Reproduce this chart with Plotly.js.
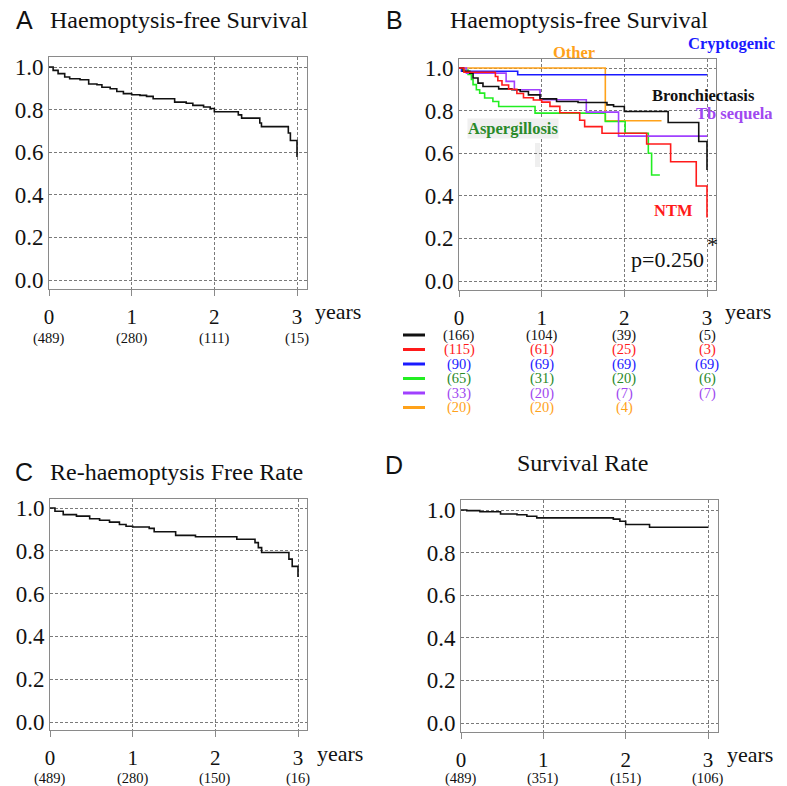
<!DOCTYPE html>
<html><head><meta charset="utf-8">
<script src="https://cdn.plot.ly/plotly-3.0.1.min.js"></script>
<style>html,body{margin:0;padding:0;background:#fff}#chart{width:787px;height:786px}</style>
</head><body><div id="chart"></div>
<script>
// ---------- data ----------
const years = [0, 1, 2, 3];
const tickY = [0, 0.2, 0.4, 0.6, 0.8, 1.0];
const tickYText = ['0.0', '0.2', '0.4', '0.6', '0.8', '1.0'];

// Panel A: haemoptysis-free survival (all patients)
const tA = [0, .05, .11, .19, .25, .375, .48, .58, .64, .74, .82, .9, 1.0, 1.1, 1.18, 1.26, 1.52, 1.66, 1.74, 1.87, 1.95, 2.0, 2.29, 2.33, 2.55, 2.57, 2.895, 2.92, 3.0];
const sA = [1, .984, .969, .953, .945, .94, .92, .917, .905, .898, .885, .875, .87, .867, .862, .851, .835, .83, .82, .812, .805, .79, .775, .76, .737, .72, .69, .655, .577];
const riskA = [489, 280, 111, 15];

// Panel B: by aetiology
const groups = ['Bronchiectasis', 'NTM', 'Cryptogenic', 'Aspergillosis', 'Tb sequela', 'Other'];
const tBronch = [0, .05, .13, .17, .23, .29, .48, .64, .74, .84, .98, 1.18, 1.44, 1.79, 1.87, 2.0, 2.53, 2.9, 3.0];
const sBronch = [1, .985, .976, .953, .929, .913, .902, .898, .89, .874, .855, .843, .838, .827, .819, .796, .744, .655, .521];
const tNTM = [0, .06, .44, .47, .52, .6, .7, .78, .9, 1.0, 1.1, 1.22, 1.46, 1.52, 1.73, 2.27, 2.56, 2.87, 3.0];
const sNTM = [1, .98, .96, .94, .92, .90, .88, .86, .85, .84, .82, .79, .755, .725, .694, .643, .56, .446, .298];
const tCrypto = [0, .03, .71, 3.0];
const sCrypto = [1, .985, .968, .968];
const tAsp = [0, .05, .11, .15, .17, .21, .25, .31, .41, .48, .92, 1.77, 2.01, 2.29, 2.33, 2.43];
const sAsp = [1, .99, .97, .946, .922, .898, .882, .859, .843, .819, .788, .749, .694, .60, .498, .498];
const tTb = [0, .09, .57, .67, .98, 1.54, 1.93, 3.0];
const sTb = [1, .976, .937, .898, .851, .793, .68, .68];
const tOther = [0, 1.77, 2.45];
const sOther = [1, .752, .752];
const riskBronch = [166, 104, 39, 5];
const riskNTM = [115, 61, 25, 3];
const riskCrypto = [90, 69, 69, 69];
const riskAsp = [65, 31, 20, 6];
const riskTb = [33, 20, 7, 7];
const riskOther = [20, 20, 4];
const pValue = 'p=0.250';

// Panel C: re-haemoptysis free rate
const tC = [0, .06, .16, .32, .48, .6, .72, .84, .92, 1.0, 1.2, 1.26, 1.52, 1.76, 2.26, 2.48, 2.52, 2.56, 2.89, 2.93, 3.0];
const sC = [1, .985, .969, .962, .95, .943, .934, .923, .915, .911, .905, .889, .872, .866, .854, .838, .815, .792, .761, .727, .678];
const riskC = [489, 280, 150, 16];

// Panel D: survival rate
const tD = [0, .07, .23, .48, .68, .8, .92, 1.85, 1.93, 2.0, 2.29, 3.0];
const sD = [1, .997, .992, .981, .978, .971, .963, .957, .947, .932, .919, .919];
const riskD = [489, 351, 151, 106];

// ---------- styling ----------
const SERIF = 'Liberation Serif, Times New Roman, serif';
const SANS = 'Liberation Sans, Arial, sans-serif';
const W = 787, H = 786;
const lineCol = {Bronchiectasis: '#111111', NTM: '#ff1a1a', Cryptogenic: '#1a1aff', Aspergillosis: '#22ee22', 'Tb sequela': '#a040ff', Other: '#ffa21a'};
const textCol = {Bronchiectasis: '#111111', NTM: '#ff1a1a', Cryptogenic: '#1a1aff', Aspergillosis: '#2a8a2a', 'Tb sequela': '#a048f0', Other: '#ffa21a'};

function frame(L, x0, x3, R, T, y1, y0, B) {
  const sx = (x3 - x0) / 3, sy = (y0 - y1);
  return {
    x: {domain: [L / W, R / W], range: [(L - x0) / sx, (R - x0) / sx]},
    y: {domain: [1 - B / H, 1 - T / H], range: [(y0 - B) / sy, (y0 - T) / sy]}
  };
}
const baseX = {
  showline: true, mirror: true, linecolor: '#8a8a8a', linewidth: 1,
  ticks: 'outside', ticklen: 6, tickcolor: '#8a8a8a', tickvals: years, ticklabelstandoff: 3,
  showgrid: true, gridcolor: '#7a7a7a', griddash: '3px,2px', gridwidth: 1,
  zeroline: false, tickfont: {family: SERIF, size: 21, color: '#111'}, fixedrange: true
};
const baseY = {
  showline: true, mirror: true, linecolor: '#8a8a8a', linewidth: 1,
  ticks: '', tickvals: tickY, ticktext: tickYText,
  showgrid: true, gridcolor: '#7a7a7a', griddash: '3px,2px', gridwidth: 1,
  zeroline: false, tickfont: {family: SERIF, size: 23, color: '#111'}, fixedrange: true
};
const fA = frame(49, 49, 297, 307, 57, 67, 280, 289);
const fB = frame(459, 459, 707, 716, 59, 68, 281, 290);
const fC = frame(50, 50, 298, 307, 499, 508, 722, 730);
const fD = frame(461, 461, 708, 718, 500, 510, 723, 732);

function km(t, s, color, xa, ya, w) {
  return {x: t, y: s, type: 'scatter', mode: 'lines', line: {shape: 'hv', color: color, width: w || 1.6},
    xaxis: xa, yaxis: ya, hoverinfo: 'skip', showlegend: false};
}
const traces = [
  km(tA, sA, '#111', 'x', 'y'),
  km(tOther, sOther, lineCol.Other, 'x2', 'y2'),
  km(tCrypto, sCrypto, lineCol.Cryptogenic, 'x2', 'y2'),
  km(tAsp, sAsp, lineCol.Aspergillosis, 'x2', 'y2'),
  km(tTb, sTb, lineCol['Tb sequela'], 'x2', 'y2'),
  km(tBronch, sBronch, lineCol.Bronchiectasis, 'x2', 'y2'),
  km(tNTM, sNTM, lineCol.NTM, 'x2', 'y2'),
  km(tC, sC, '#111', 'x3', 'y3'),
  km(tD, sD, '#111', 'x4', 'y4')
];

const ann = [];
function pa(px, py, text, font, extra) {
  ann.push(Object.assign({xref: 'paper', yref: 'paper', x: px / W, y: 1 - py / H, text: text,
    showarrow: false, font: font, xanchor: 'center', yanchor: 'middle'}, extra || {}));
}
// panel letters & titles
pa(24, 20, 'A', {family: SANS, size: 25, color: '#111'});
pa(48, 20, 'Haemoptysis-free Survival', {family: SERIF, size: 24, color: '#111'}, {xanchor: 'left'});
pa(394, 20, 'B', {family: SANS, size: 25, color: '#111'});
pa(448, 20, 'Haemoptysis-free Survival', {family: SERIF, size: 24, color: '#111'}, {xanchor: 'left'});
pa(24, 472, 'C', {family: SANS, size: 25, color: '#111'});
pa(48, 472, 'Re-haemoptysis Free Rate', {family: SERIF, size: 24, color: '#111'}, {xanchor: 'left'});
pa(394, 465, 'D', {family: SANS, size: 25, color: '#111'});
pa(582, 463, 'Survival Rate', {family: SERIF, size: 24, color: '#111'});
// "years"
pa(313, 311, 'years', {family: SERIF, size: 22, color: '#111'}, {xanchor: 'left'});
pa(723, 311, 'years', {family: SERIF, size: 22, color: '#111'}, {xanchor: 'left'});
pa(315, 753, 'years', {family: SERIF, size: 22, color: '#111'}, {xanchor: 'left'});
pa(725, 754, 'years', {family: SERIF, size: 22, color: '#111'}, {xanchor: 'left'});
// numbers at risk
function riskRow(vals, xa, py, color) {
  vals.forEach((v, i) => ann.push({xref: xa, yref: 'paper', x: years[i], y: 1 - py / H, text: '(' + v + ')',
    showarrow: false, font: {family: SERIF, size: 14.5, color: color}, xanchor: 'center', yanchor: 'middle'}));
}
riskRow(riskA, 'x', 338, '#111');
riskRow(riskC, 'x3', 778, '#111');
riskRow(riskD, 'x4', 778, '#111');
const riskB = [riskBronch, riskNTM, riskCrypto, riskAsp, riskTb, riskOther];
const shapes = [];
riskB.forEach((r, k) => {
  const py = 335 + k * 14.5;
  riskRow(r, 'x2', py, textCol[groups[k]]);
  shapes.push({type: 'line', xref: 'paper', yref: 'paper', x0: 403 / W, x1: 425 / W, y0: 1 - py / H, y1: 1 - py / H,
    line: {color: lineCol[groups[k]], width: 3}});
});
// panel B group labels
const bold = (c) => ({family: SERIF, size: 16.5, color: c});
pa(574, 52, '<b>Other</b>', bold(textCol.Other));
pa(731, 44, '<b>Cryptogenic</b>', bold(textCol.Cryptogenic));
pa(703, 96, '<b>Bronchiectasis</b>', bold(textCol.Bronchiectasis));
pa(734, 113, '<b>Tb sequela</b>', bold(textCol['Tb sequela']));
pa(513, 128, '<b>Aspergillosis</b>', bold(textCol.Aspergillosis), {bgcolor: '#f0f0f0', borderpad: 0});
pa(673, 210, '<b>NTM</b>', bold(textCol.NTM));
pa(667, 259, pValue, {family: SERIF, size: 22, color: '#111'});
pa(712, 244, '*', {family: SERIF, size: 22, color: '#111'});
shapes.push({type: 'rect', xref: 'paper', yref: 'paper', x0: 535 / W, x1: 540 / W, y0: 1 - 167 / H, y1: 1 - 143 / H,
  fillcolor: '#efefef', line: {width: 0}, layer: 'below'});

const layout = {
  width: W, height: H, margin: {l: 0, r: 0, t: 0, b: 0}, paper_bgcolor: '#fff', plot_bgcolor: '#fff',
  showlegend: false,
  xaxis: Object.assign({}, baseX, fA.x, {anchor: 'y'}),
  yaxis: Object.assign({}, baseY, fA.y, {anchor: 'x'}),
  xaxis2: Object.assign({}, baseX, fB.x, {anchor: 'y2'}),
  yaxis2: Object.assign({}, baseY, fB.y, {anchor: 'x2'}),
  xaxis3: Object.assign({}, baseX, fC.x, {anchor: 'y3'}),
  yaxis3: Object.assign({}, baseY, fC.y, {anchor: 'x3'}),
  xaxis4: Object.assign({}, baseX, fD.x, {anchor: 'y4'}),
  yaxis4: Object.assign({}, baseY, fD.y, {anchor: 'x4'}),
  annotations: ann, shapes: shapes
};
Plotly.newPlot('chart', traces, layout, {staticPlot: true, displayModeBar: false});
</script></body></html>
